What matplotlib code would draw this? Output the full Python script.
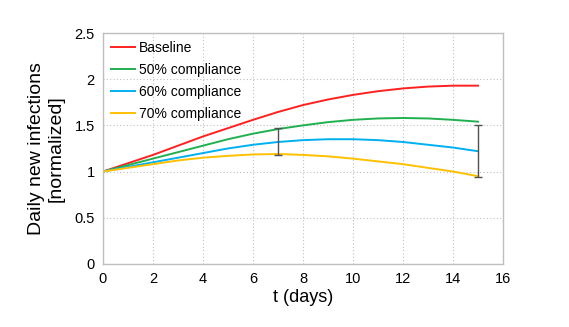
import matplotlib
matplotlib.use("Agg")
import matplotlib.pyplot as plt

plt.rcParams['font.family'] = ['Liberation Sans', 'DejaVu Sans']

t = list(range(16))
baseline = [1.00, 1.09, 1.18, 1.28, 1.38, 1.47, 1.56, 1.645, 1.72, 1.78, 1.83, 1.87, 1.90, 1.92, 1.93, 1.93]
c50 = [1.00, 1.07, 1.14, 1.21, 1.28, 1.35, 1.41, 1.46, 1.50, 1.535, 1.56, 1.575, 1.58, 1.575, 1.56, 1.54]
c60 = [1.00, 1.05, 1.10, 1.15, 1.20, 1.25, 1.29, 1.32, 1.34, 1.35, 1.35, 1.34, 1.32, 1.29, 1.26, 1.22]
c70 = [1.00, 1.04, 1.08, 1.12, 1.15, 1.17, 1.185, 1.19, 1.18, 1.165, 1.14, 1.11, 1.08, 1.04, 1.00, 0.95]
labels = ["Baseline", "50% compliance", "60% compliance", "70% compliance"]
colors = ["#FF2020", "#20B050", "#00B0F0", "#FFC000"]

err_t = [7, 15]
err_low = [1.18, 0.94]
err_high = [1.47, 1.50]

fig = plt.figure(figsize=(5.69, 3.27), dpi=100)
ax = fig.add_axes([0.181, 0.193, 0.703, 0.706])

for ys, lab, c in zip([baseline, c50, c60, c70], labels, colors):
    ax.plot(t, ys, color=c, lw=1.4, label=lab)

for x, lo, hi in zip(err_t, err_low, err_high):
    mid = (lo + hi) / 2
    ax.errorbar([x], [mid], yerr=[[mid - lo], [hi - mid]], fmt='none',
                ecolor='#505050', elinewidth=1.0, capsize=3, capthick=1.0)

ax.set_xlim(0, 16)
ax.set_ylim(0, 2.5)
ax.set_xticks(range(0, 17, 2))
ax.set_yticks([0, 0.5, 1, 1.5, 2, 2.5])
ax.set_yticklabels(["0", "0.5", "1", "1.5", "2", "2.5"])
ax.grid(True, color='#BFBFBF', linestyle=(0, (1, 2)), linewidth=0.8)
ax.set_axisbelow(True)
for s in ax.spines.values():
    s.set_color('#BFBFBF')
    s.set_linewidth(1.0)
ax.tick_params(length=0, labelsize=10.5, pad=6)
ax.set_xlabel("t (days)", fontsize=13, labelpad=2)
ax.set_ylabel("Daily new infections\n[normalized]", fontsize=14, labelpad=7)

leg = ax.legend(loc='upper left', frameon=False, fontsize=10, handlelength=1.75,
                labelspacing=0.58, borderaxespad=0.15, handletextpad=0.3)

fig.savefig("out.png", dpi=100)
